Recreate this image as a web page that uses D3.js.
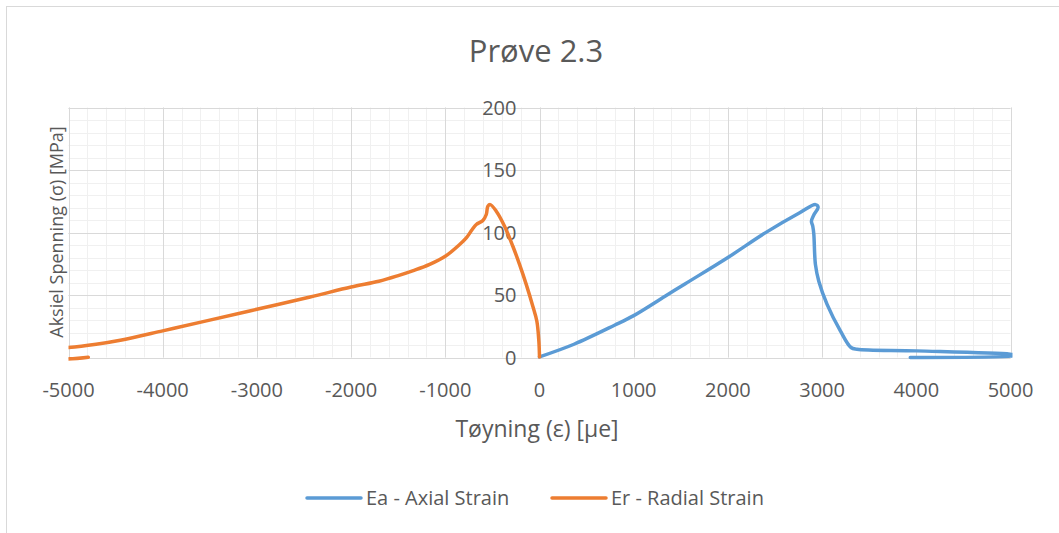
<!DOCTYPE html>
<html lang="no">
<head>
<meta charset="UTF-8">
<title>Prøve 2.3</title>
<style>
  html, body { margin: 0; padding: 0; background: #fff; overflow: hidden; }
  svg text { font-family: "Open Sans", "Noto Sans", sans-serif; fill: #595959; }
</style>
</head>
<body>
<svg id="chart" width="1059" height="533"></svg>
<script src="https://cdn.jsdelivr.net/npm/d3@7"></script>
<script>
// --- data ---
const seriesNames = ["Ea - Axial Strain", "Er - Radial Strain"];
const seriesColors = ["#5B9BD5", "#ED7D31"];

// axial strain (µe) / stress (MPa)
const axialStrain = [0, 366, 796, 1000, 1333, 1548, 2000, 2409, 2767, 2929, 2958, 2912, 2887, 2901, 2912, 2929, 2965, 3053, 3194, 3307, 3371, 4000, 4996, 5060, 5000, 3936];
const axialStress = [0.5, 10.6, 25.8, 33.5, 49, 59, 80, 100.3, 116, 122.3, 120.2, 114, 109, 105, 98.7, 74.5, 61, 42.5, 21.3, 8, 6.6, 5.3, 2.7, 2, 1.1, 0];

// radial strain (µe) / stress (MPa)
const radialStrain = [0, -7, -28, -71, -141, -212, -283, -371, -459, -523, -548, -565, -601, -671, -714, -777, -848, -1000, -1166, -1340, -1500, -1705, -2000, -2435, -3000, -3536, -4000, -4450, -4707, -5000, -5150, -5150, -4790];
const radialStress = [0.5, 13.3, 29, 41, 58.5, 74.5, 89, 105, 117, 122.3, 121, 114.4, 109.6, 106.4, 102.4, 95.7, 90.4, 81, 74.5, 69.5, 65.5, 61, 56.4, 48.4, 38.6, 29.3, 21.3, 13.8, 10.6, 8, 7.4, 0.3, 0.2];

const xTicks = [-5000, -4000, -3000, -2000, -1000, 0, 1000, 2000, 3000, 4000, 5000];
const yTicks = [0, 50, 100, 150, 200];

const title = "Prøve 2.3";
const xTitle = "Tøyning (ε) [µe]";
const yTitle = "Aksiel Spenning (σ) [MPa]";

// --- layout ---
const svg = d3.select("#chart");
const x = d3.scaleLinear().domain([-5000, 5000]).range([68.5, 1010.5]);
const y = d3.scaleLinear().domain([0, 200]).range([357.5, 107.5]);

// clip series to the plot area (a bit of room for the line width)
svg.append("clipPath").attr("id", "plot")
  .append("rect")
  .attr("x", x(-5000)).attr("y", y(200) - 4)
  .attr("width", x(5000) - x(-5000) + 2).attr("height", y(0) - y(200) + 8);

// chart frame
svg.append("rect")
  .attr("x", 6.5).attr("y", 6.5)
  .attr("width", 1100).attr("height", 600)
  .attr("fill", "none").attr("stroke", "#d9d9d9");

// minor grid
const grid = svg.append("g");
grid.selectAll(".mx").data(d3.range(-5000, 5001, 200))
  .join("line")
  .attr("x1", d => Math.round(x(d)) + 0.5).attr("x2", d => Math.round(x(d)) + 0.5)
  .attr("y1", y(0)).attr("y2", y(200))
  .attr("stroke", "#f0f0f0");
grid.selectAll(".my").data(d3.range(0, 201, 10))
  .join("line")
  .attr("y1", d => Math.round(y(d)) + 0.5).attr("y2", d => Math.round(y(d)) + 0.5)
  .attr("x1", x(-5000)).attr("x2", x(5000))
  .attr("stroke", "#f0f0f0");

// major grid
svg.append("g").selectAll("line").data(xTicks)
  .join("line")
  .attr("x1", d => Math.round(x(d)) + 0.5).attr("x2", d => Math.round(x(d)) + 0.5)
  .attr("y1", y(0)).attr("y2", y(200))
  .attr("stroke", "#d9d9d9");
svg.append("g").selectAll("line").data(yTicks)
  .join("line")
  .attr("y1", d => Math.round(y(d)) + 0.5).attr("y2", d => Math.round(y(d)) + 0.5)
  .attr("x1", x(-5000)).attr("x2", x(5000))
  .attr("stroke", "#d9d9d9");

// tick labels
svg.append("g").selectAll("text").data(xTicks)
  .join("text")
  .attr("x", d => x(d)).attr("y", 397)
  .attr("text-anchor", "middle")
  .attr("font-size", 20)
  .text(d => d);
svg.append("g").selectAll("text").data(yTicks)
  .join("text")
  .attr("x", x(0) - 23).attr("y", d => y(d) + 7)
  .attr("text-anchor", "end")
  .attr("font-size", 20)
  .text(d => d);

// series
const line = d3.line()
  .curve(d3.curveCatmullRom.alpha(0.5))
  .x(d => x(d[0])).y(d => y(d[1]));
const series = [
  d3.zip(axialStrain, axialStress),
  d3.zip(radialStrain, radialStress)
];
svg.append("g").attr("clip-path", "url(#plot)")
  .selectAll("path").data(series)
  .join("path")
  .attr("d", line)
  .attr("fill", "none")
  .attr("stroke", (d, i) => seriesColors[i])
  .attr("stroke-width", 3.5)
  .attr("stroke-linejoin", "round")
  .attr("stroke-linecap", "round");

// titles
svg.append("text")
  .attr("x", 536).attr("y", 62)
  .attr("text-anchor", "middle")
  .attr("font-size", 31)
  .text(title);
svg.append("text")
  .attr("x", 537).attr("y", 437)
  .attr("text-anchor", "middle")
  .attr("font-size", 23)
  .text(xTitle);
svg.append("text")
  .attr("transform", "translate(63,232) rotate(-90)")
  .attr("text-anchor", "middle")
  .attr("font-size", 18)
  .text(yTitle);

// legend
const legendX = [307, 552];
const leg = svg.append("g").selectAll("g").data(seriesNames)
  .join("g")
  .attr("transform", (d, i) => `translate(${legendX[i]},498)`);
leg.append("line")
  .attr("x1", 0).attr("x2", 54)
  .attr("stroke", (d, i) => seriesColors[i])
  .attr("stroke-width", 3.5)
  .attr("stroke-linecap", "round");
leg.append("text")
  .attr("x", 59).attr("y", 7)
  .attr("font-size", 20)
  .text(d => d);
</script>
</body>
</html>
